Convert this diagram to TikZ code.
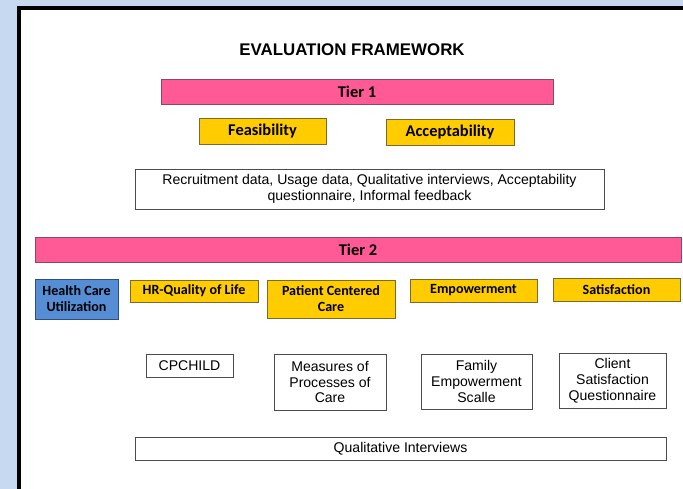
\documentclass[tikz,border=0pt]{standalone}
\usepackage{fontspec}
\setmainfont{Liberation Sans}
\newfontfamily\calfont{Carlito}
\usetikzlibrary{positioning}

\definecolor{tierpink}{HTML}{FF5A96}
\definecolor{tierline}{HTML}{8A4A66}
\definecolor{aimyellow}{HTML}{FFCC00}
\definecolor{aimline}{HTML}{7A6A30}
\definecolor{aimblue}{HTML}{558ED5}
\definecolor{aimblueline}{HTML}{2F4F7F}
\definecolor{pageblue}{HTML}{C6D9F0}

\begin{document}
\begin{tikzpicture}
    [
    x=0.03cm, y=-0.03cm,
    tier/.style={rectangle,draw=tierline,fill=tierpink,inner sep=0pt,minimum height=0.76cm,
      font=\calfont\bfseries\fontsize{14}{16}\selectfont},
    aim/.style={rectangle,draw=aimline,fill=aimyellow,inner sep=0pt,align=center,
      font=\calfont\bfseries\fontsize{12}{13.6}\selectfont},
    bigaim/.style={aim,font=\calfont\bfseries\fontsize{14}{16}\selectfont},
    util/.style={aim,draw=aimblueline,fill=aimblue},
    measure/.style={rectangle,draw=black!70,fill=white,inner sep=0pt,align=center,
      font=\fontsize{12}{13.5}\selectfont}
    ]
    % page and frame
    \fill [pageblue] (0,0) rectangle (683,489);
    \useasboundingbox (0,0) rectangle (683,489);
    \fill [white] (19,8) rectangle (683,489);
    \draw [line width=3.5pt] (19,500) -- (19,8) -- (700,8);

    \node (title) at (352,50) {\bfseries\fontsize{14.4}{16}\selectfont EVALUATION FRAMEWORK};

    % tier 1
    \node (tierone) at (357,91.5) [tier,minimum width=11.76cm] {Tier 1};
    \node (feas) at (262.5,131) [bigaim,minimum width=3.81cm,minimum height=0.78cm] {Feasibility};
    \node (accept) at (450,132) [bigaim,minimum width=3.84cm,minimum height=0.78cm] {Acceptability};
    \node (recruit) at (369.5,189) [measure,minimum width=14.07cm,minimum height=1.2cm]
      {Recruitment data, Usage data, Qualitative interviews, Acceptability\\questionnaire, Informal feedback};

    % tier 2
    \node (tiertwo) at (358,250) [tier,minimum width=19.38cm] {Tier 2};
    \node (hcu) at (76.5,299) [util,minimum width=2.49cm,minimum height=1.2cm] {Health Care\\Utilization};
    \node (hrql) at (194,291) [aim,minimum width=3.84cm,minimum height=0.66cm] {HR-Quality of Life};
    \node (pcc) at (331,299) [aim,minimum width=3.84cm,minimum height=1.14cm] {Patient Centered\\Care};
    \node (empow) at (473.5,290.5) [aim,minimum width=3.81cm,minimum height=0.69cm] {Empowerment};
    \node (satis) at (616.5,289.5) [aim,minimum width=3.81cm,minimum height=0.69cm] {Satisfaction};

    \node (cpchild) at (189.5,365.5) [measure,minimum width=2.61cm,minimum height=0.69cm] {CPCHILD};
    \node (mpoc) at (330,382) [measure,minimum width=3.36cm,minimum height=1.68cm] {Measures of\\Processes of\\Care};
    \node (fes) at (476.5,381.5) [measure,minimum width=3.33cm,minimum height=1.65cm] {Family\\Empowerment\\Scalle};
    \node (csq) at (612.5,380.5) [measure,minimum width=3.21cm,minimum height=1.65cm] {Client\\Satisfaction\\Questionnaire};
    \node (qual) at (400.5,448.5) [measure,minimum width=15.93cm,minimum height=0.69cm] {Qualitative Interviews};
\end{tikzpicture}
\end{document}
